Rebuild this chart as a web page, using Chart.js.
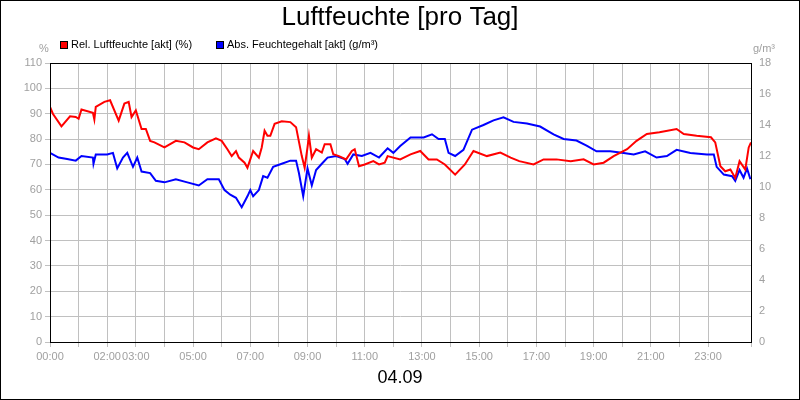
<!DOCTYPE html>
<html><head><meta charset="utf-8">
<script src="https://cdn.jsdelivr.net/npm/chart.js@4"></script>
<style>html,body{margin:0;padding:0;background:#fff}#w{width:800px;height:400px;box-sizing:border-box;border:1px solid #000;position:relative}</style>
</head><body><div id="w"><canvas id="c" width="798" height="398"></canvas></div>
<script>
const hourLabels = [0,2,3,5,7,9,11,13,15,17,19,21,23];
const relHours = [0,0.1,0.4,0.7,0.9,1.0,1.1,1.5,1.55,1.6,1.9,2.1,2.4,2.6,2.75,2.85,3.0,3.2,3.35,3.5,3.65,4.0,4.4,4.7,5.0,5.2,5.5,5.8,6.0,6.2,6.35,6.5,6.6,6.8,6.9,7.0,7.1,7.3,7.4,7.5,7.6,7.7,7.85,8.1,8.4,8.6,8.8,8.9,9.0,9.05,9.15,9.3,9.5,9.6,9.8,9.9,10.1,10.35,10.55,10.65,10.8,11.0,11.3,11.5,11.7,11.8,12.24,12.6,12.94,13.23,13.52,13.8,14.16,14.5,14.8,15.27,15.74,16.1,16.4,16.9,17.25,17.7,18.2,18.65,19.0,19.35,19.7,20.17,20.5,20.86,21.3,21.9,22.15,22.6,23.1,23.25,23.43,23.6,23.78,23.95,24.1,24.3,24.42,24.5];
const relValues = [92.7,90,85,89,88.7,88,91.7,90.4,87.7,92.7,94.7,95.3,87.3,94,94.7,88.7,91.3,84,84,79.3,78.7,76.7,79.3,78.7,76.7,76,78.7,80.3,79.3,76,73.3,75.3,72.7,70.7,68.7,72,75.3,72.7,76.7,83.3,81.3,81.3,86,87,86.7,84.7,73.3,68.7,76.7,81.3,72.7,76,74.7,78,78,74,73.3,72,75.3,76,69.3,70,71.3,70,70.7,73.3,72,74,75.3,72,72,70,66,70,75.3,73.3,74.7,72.7,71.3,70,72,72,71.3,72,70,70.7,73.3,76,79.3,82,82.7,84,82,81.3,80.7,78.7,69.3,67.3,68,64.7,71.3,68,76.7,78.7];
const absHours = [0,0.3,0.6,0.9,1.1,1.5,1.52,1.6,2.0,2.2,2.35,2.55,2.7,2.9,3.05,3.2,3.5,3.7,4.0,4.4,4.8,5.2,5.5,5.9,6.1,6.3,6.5,6.7,6.9,7.0,7.1,7.3,7.45,7.6,7.8,8.1,8.4,8.6,8.7,8.85,9.0,9.15,9.3,9.5,9.7,10.0,10.3,10.4,10.6,10.9,11.2,11.5,11.8,12.0,12.24,12.6,13.06,13.35,13.58,13.8,13.93,14.16,14.45,14.75,15.15,15.5,15.85,16.2,16.67,17.13,17.6,17.95,18.4,18.77,19.1,19.58,20.05,20.4,20.8,21.2,21.56,21.9,22.38,22.96,23.2,23.3,23.55,23.84,23.95,24.1,24.24,24.36,24.48];
const absValues = [12.2,11.9,11.8,11.7,12.0,11.9,11.5,12.1,12.1,12.2,11.2,11.9,12.2,11.3,11.9,11.0,10.9,10.4,10.3,10.5,10.3,10.1,10.5,10.5,9.8,9.5,9.3,8.7,9.4,9.8,9.4,9.8,10.7,10.6,11.3,11.5,11.7,11.7,10.9,9.4,11.2,10.1,11.1,11.5,11.9,12.0,11.8,11.5,12.1,12.0,12.2,11.9,12.5,12.2,12.65,13.2,13.2,13.4,13.1,13.1,12.2,12.0,12.4,13.7,14.0,14.3,14.5,14.2,14.1,13.9,13.4,13.1,13.0,12.65,12.3,12.3,12.2,12.1,12.3,11.9,12.0,12.4,12.2,12.1,12.1,11.3,10.8,10.7,10.4,11.1,10.6,11.2,10.5];

const pts=(h,v)=>h.map((x,i)=>({x,y:v[i]}));
const grid='#c0c0c0', tc='#a0a0a0';
const deco={id:'deco',afterDraw(ch){const c=ch.ctx,a=ch.chartArea;c.save();
c.strokeStyle='#000';c.lineWidth=1;c.strokeRect(a.left+0.5,a.top+0.5,a.right-a.left,a.bottom-a.top);
c.fillStyle='#000';c.textAlign='center';c.textBaseline='middle';
c.font='26px "Liberation Sans",Arial';c.fillText('Luftfeuchte [pro Tag]',399,17);
c.font='18px "Liberation Sans",Arial';c.fillText('04.09',399,377);
c.font='11px "Liberation Sans",Arial';c.textAlign='left';
c.fillStyle='#f00';c.fillRect(59,40,8,8);c.strokeStyle='#000';c.strokeRect(59.5,40.5,7,7);
c.fillStyle='#000';c.fillText('Rel. Luftfeuchte [akt] (%)',70,44);
c.fillStyle='#00f';c.fillRect(215,40,8,8);c.strokeRect(215.5,40.5,7,7);
c.fillStyle='#000';c.fillText('Abs. Feuchtegehalt [akt] (g/m³)',226,44);
c.fillStyle=tc;c.fillText('%',38,48);c.fillText('g/m³',752,48);
c.restore();}};
new Chart(document.getElementById('c'),{type:'line',
data:{datasets:[
{data:pts(relHours,relValues),borderColor:'#f00',borderWidth:2,pointRadius:0,yAxisID:'y',tension:0},
{data:pts(absHours,absValues),borderColor:'#00f',borderWidth:2,pointRadius:0,yAxisID:'y2',tension:0}]},
options:{responsive:false,animation:false,events:[],
layout:{padding:{top:62,bottom:0,left:0,right:0}},
plugins:{legend:{display:false},tooltip:{enabled:false}},
scales:{
x:{type:'linear',min:0,max:24.5,afterFit(s){s.height=57},
ticks:{stepSize:1,autoSkip:false,maxRotation:0,color:tc,font:{size:11,family:'"Liberation Sans",Arial'},
callback:v=>hourLabels.includes(v)?String(v).padStart(2,'0')+':00':''},
grid:{color:grid,tickLength:5},border:{display:false}},
y:{position:'left',min:0,max:110,afterFit(s){s.width=49},
ticks:{stepSize:10,color:tc,font:{size:11,family:'"Liberation Sans",Arial'}},
grid:{color:grid,tickLength:5},border:{display:false}},
y2:{position:'right',min:0,max:18,afterFit(s){s.width=48},
ticks:{stepSize:2,color:tc,font:{size:11,family:'"Liberation Sans",Arial'}},
grid:{display:false,tickLength:5},border:{display:false}}}},
plugins:[deco]});
</script></body></html>
